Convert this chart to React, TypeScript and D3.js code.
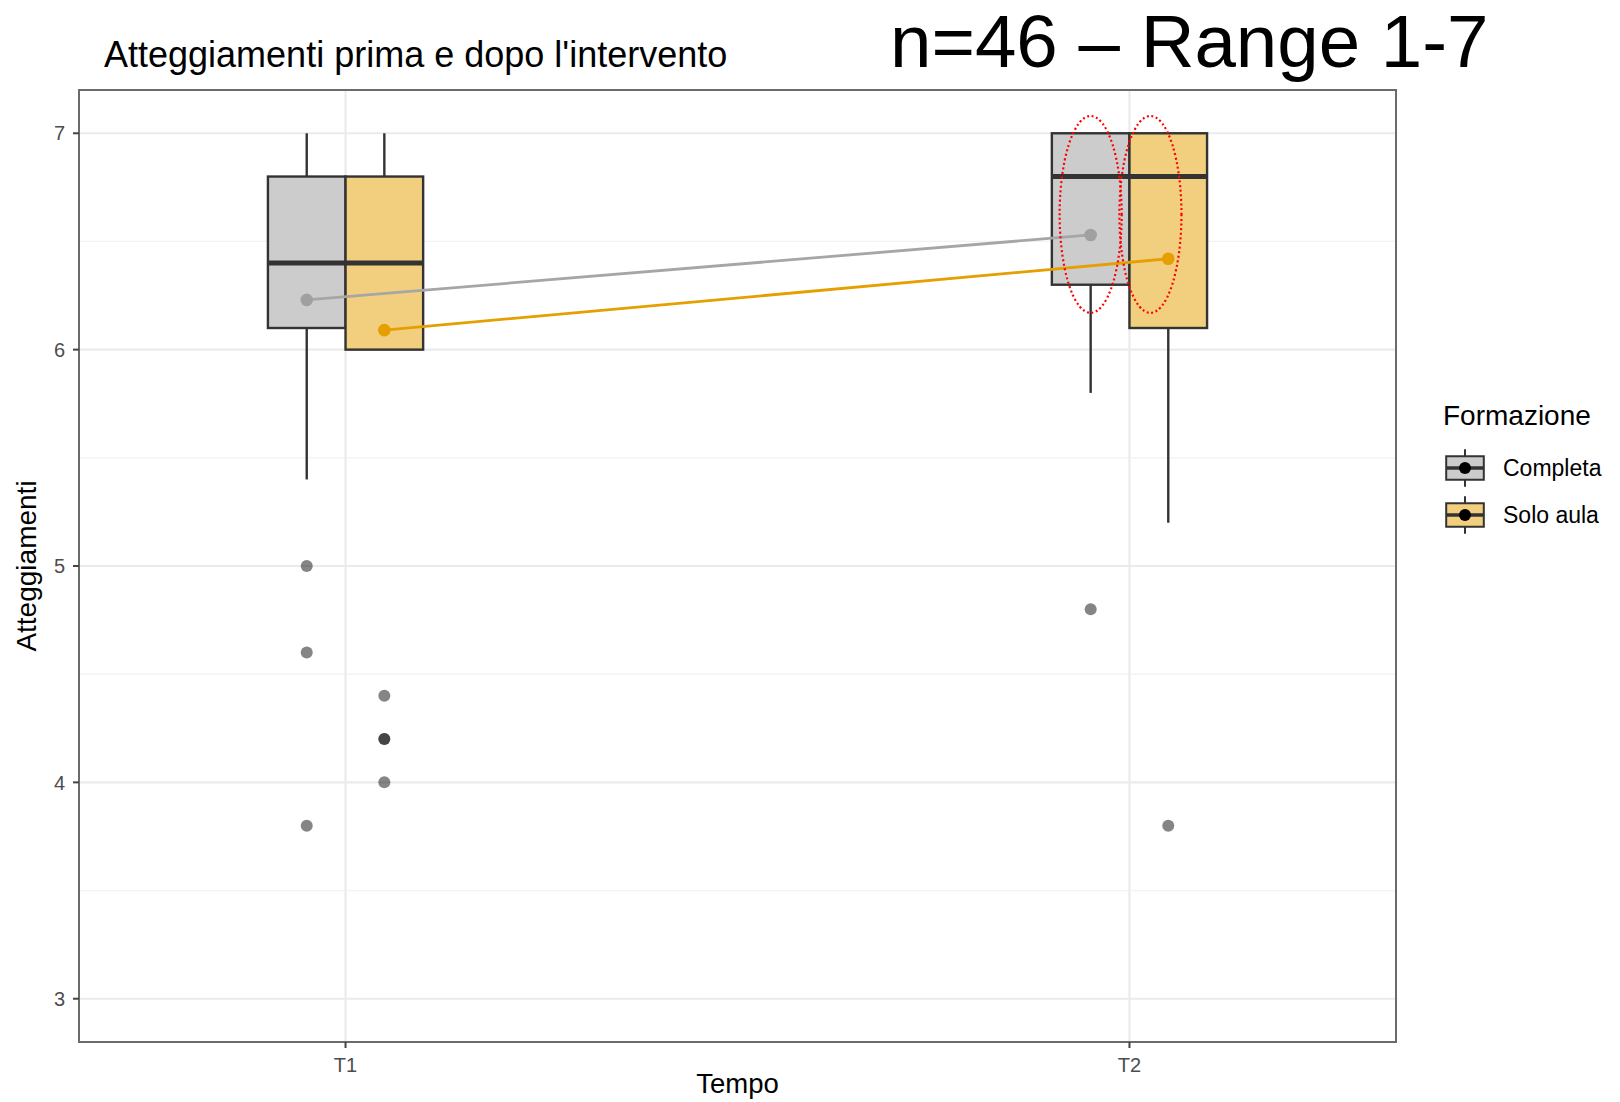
import * as d3 from "d3";

const W = 1620;
const H = 1102;

// categorie
const tempi = ["T1", "T2"];
const gruppi = ["Completa", "Solo aula"];

// statistiche dei box: [gruppo][tempo]
const whiskerBasso = [[5.4, 5.8], [6.0, 5.2]];
const quartile1 = [[6.1, 6.3], [6.0, 6.1]];
const mediana = [[6.4, 6.8], [6.4, 6.8]];
const quartile3 = [[6.8, 7.0], [6.8, 7.0]];
const whiskerAlto = [[7.0, 7.0], [7.0, 7.0]];
const medie = [[6.23, 6.53], [6.09, 6.42]];
const outliers = [
  [[5.0, 4.6, 3.8], [4.8]],
  [[4.4, 4.2, 4.2, 4.0], [3.8]],
];

const yTicks = [3, 4, 5, 6, 7];
const yMinorTicks = [3.5, 4.5, 5.5, 6.5];

// evidenziazioni rosse (ellissi tratteggiate) sul T2
const evidenziati = [
  { gruppo: 0, tempo: "T2", spostamento: 0, alto: 7.08, basso: 6.17 },
  { gruppo: 1, tempo: "T2", spostamento: -0.23, alto: 7.08, basso: 6.17 },
];

const fills = ["#cccccc", "#f2cf7f"];
const lineColors = ["#a6a6a6", "#e69f00"];
const pointColors = ["#a0a0a0", "#e69f00"];
const FONT = "'Liberation Sans', Arial, Helvetica, sans-serif";

export default function App() {
  const panel = { left: 79, right: 1396, top: 90, bottom: 1042 };

  const x = d3.scalePoint<string>().domain(tempi).range([panel.left, panel.right]).padding(0.34);
  const y = d3.scaleLinear().domain([2.8, 7.2]).range([panel.bottom, panel.top]);

  const boxW = x.step() * 0.099;
  const cx = (g: number, t: number) => (x(tempi[t]) as number) + (g - 0.5) * boxW;

  const lineFor = (gi: number) =>
    d3
      .line<number>()
      .x((_, i) => cx(gi, i))
      .y((d) => y(d));

  // legenda
  const keySize = 47;
  const keyLeft = 1441.5;
  const keyTop = 444.5;

  return (
    <svg
      width={W}
      height={H}
      style={{ position: "absolute", left: 0, top: 0, background: "#fff" }}
      fontFamily={FONT}
    >
      <rect x={0} y={0} width={W} height={H} fill="#fff" />

      {/* titoli */}
      <text x={104} y={66.5} fontSize={36} fill="#000">
        Atteggiamenti prima e dopo l'intervento
      </text>
      <text x={890} y={67} fontSize={74.5} fill="#000">
        n=46 – Range 1-7
      </text>

      {/* griglia */}
      {yMinorTicks.map((t) => (
        <line key={"m" + t} x1={panel.left} x2={panel.right} y1={y(t)} y2={y(t)} stroke="#f2f2f2" strokeWidth={1.3} />
      ))}
      {yTicks.map((t) => (
        <line key={"g" + t} x1={panel.left} x2={panel.right} y1={y(t)} y2={y(t)} stroke="#ebebeb" strokeWidth={2.2} />
      ))}
      {tempi.map((t) => (
        <line key={"v" + t} x1={x(t)} x2={x(t)} y1={panel.top} y2={panel.bottom} stroke="#ebebeb" strokeWidth={2.2} />
      ))}

      {/* boxplot */}
      {gruppi.map((g, gi) =>
        tempi.map((t, ti) => {
          const c = cx(gi, ti);
          return (
            <g key={g + t}>
              <line x1={c} x2={c} y1={y(whiskerAlto[gi][ti])} y2={y(quartile3[gi][ti])} stroke="#333" strokeWidth={2.4} />
              <line x1={c} x2={c} y1={y(quartile1[gi][ti])} y2={y(whiskerBasso[gi][ti])} stroke="#333" strokeWidth={2.4} />
              <rect
                x={c - boxW / 2}
                width={boxW}
                y={y(quartile3[gi][ti])}
                height={y(quartile1[gi][ti]) - y(quartile3[gi][ti])}
                fill={fills[gi]}
                stroke="#333"
                strokeWidth={2.4}
              />
              <line
                x1={c - boxW / 2}
                x2={c + boxW / 2}
                y1={y(mediana[gi][ti])}
                y2={y(mediana[gi][ti])}
                stroke="#333"
                strokeWidth={5}
              />
              {outliers[gi][ti].map((v, k) => (
                <circle key={k} cx={c} cy={y(v)} r={6} fill="#000" fillOpacity={0.48} />
              ))}
            </g>
          );
        })
      )}

      {/* medie */}
      {gruppi.map((g, gi) => (
        <path key={"l" + g} d={lineFor(gi)(medie[gi]) as string} fill="none" stroke={lineColors[gi]} strokeWidth={2.8} />
      ))}
      {gruppi.map((g, gi) =>
        medie[gi].map((v, ti) => (
          <circle key={"p" + g + ti} cx={cx(gi, ti)} cy={y(v)} r={6.3} fill={pointColors[gi]} />
        ))
      )}

      {/* ellissi rosse */}
      {evidenziati.map((e, i) => {
        const c = cx(e.gruppo, tempi.indexOf(e.tempo)) + e.spostamento * boxW;
        return (
          <ellipse
            key={"e" + i}
            cx={c}
            cy={(y(e.alto) + y(e.basso)) / 2}
            rx={boxW * 0.4}
            ry={(y(e.basso) - y(e.alto)) / 2}
            fill="none"
            stroke="#ff0000"
            strokeWidth={2.2}
            strokeDasharray="2 2.6"
          />
        );
      })}

      {/* bordo pannello */}
      <rect
        x={panel.left}
        y={panel.top}
        width={panel.right - panel.left}
        height={panel.bottom - panel.top}
        fill="none"
        stroke="#6b6b6b"
        strokeWidth={2}
      />

      {/* asse y */}
      {yTicks.map((t) => (
        <g key={"yt" + t}>
          <line x1={panel.left - 6} x2={panel.left} y1={y(t)} y2={y(t)} stroke="#444" strokeWidth={2} />
          <text x={panel.left - 14} y={y(t)} dy="0.36em" textAnchor="end" fontSize={20} fill="#4d4d4d">
            {t}
          </text>
        </g>
      ))}
      <text
        transform={`translate(36,${(panel.top + panel.bottom) / 2}) rotate(-90)`}
        textAnchor="middle"
        fontSize={28}
        fill="#000"
      >
        Atteggiamenti
      </text>

      {/* asse x */}
      {tempi.map((t) => (
        <g key={"xt" + t}>
          <line x1={x(t)} x2={x(t)} y1={panel.bottom} y2={panel.bottom + 6} stroke="#444" strokeWidth={2} />
          <text x={x(t)} y={1072} textAnchor="middle" fontSize={20} fill="#4d4d4d">
            {t}
          </text>
        </g>
      ))}
      <text x={(panel.left + panel.right) / 2} y={1093} textAnchor="middle" fontSize={27.5} fill="#000">
        Tempo
      </text>

      {/* legenda */}
      <text x={1443} y={425} fontSize={28} fill="#000">
        Formazione
      </text>
      {gruppi.map((g, gi) => {
        const top = keyTop + gi * keySize;
        const mid = top + keySize / 2;
        const kc = keyLeft + keySize / 2;
        return (
          <g key={"k" + g}>
            <line x1={kc} x2={kc} y1={top + keySize * 0.1} y2={top + keySize * 0.9} stroke="#333" strokeWidth={2} />
            <rect
              x={keyLeft + keySize * 0.1}
              y={top + keySize * 0.25}
              width={keySize * 0.8}
              height={keySize * 0.5}
              fill={fills[gi]}
              stroke="#333"
              strokeWidth={2}
            />
            <line
              x1={keyLeft + keySize * 0.1}
              x2={keyLeft + keySize * 0.9}
              y1={mid}
              y2={mid}
              stroke="#333"
              strokeWidth={3.5}
            />
            <circle cx={kc} cy={mid} r={6} fill="#000" />
            <text x={1503} y={mid} dy="0.36em" fontSize={23} fill="#000">
              {g}
            </text>
          </g>
        );
      })}
    </svg>
  );
}
